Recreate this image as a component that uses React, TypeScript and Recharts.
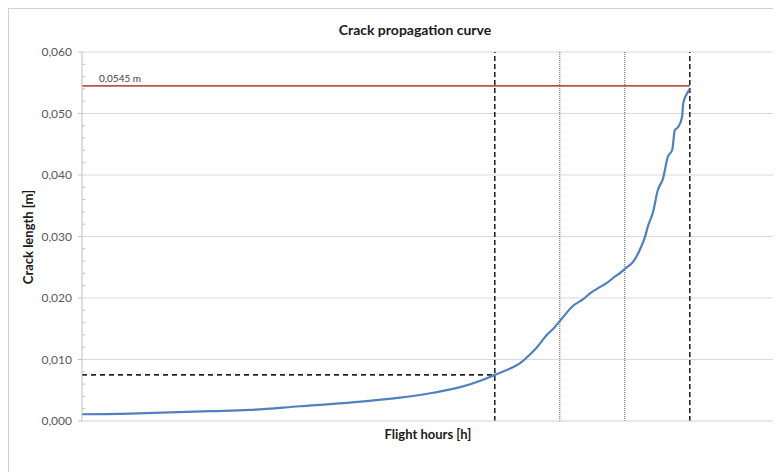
import React from 'react';
import { ComposedChart, Line, XAxis, YAxis, ReferenceLine } from 'recharts';

// Flight hours (arbitrary units along the x axis)
const flightHours = [0, 74, 135, 197, 258, 335, 412, 489, 540, 582, 617, 635, 658, 674, 689, 700, 715, 725, 737, 755, 771, 782, 797, 808, 820, 828, 837, 848, 858, 866, 871, 878, 886, 894, 901, 908, 912, 917, 923, 925, 931, 935];
// Crack length [m]
const crackLength = [0.0011, 0.0012, 0.0014, 0.0016, 0.0018, 0.0024, 0.0030, 0.0038, 0.0046, 0.0055, 0.0067, 0.0075, 0.0085, 0.0094, 0.0108, 0.0120, 0.0140, 0.0150, 0.0165, 0.0187, 0.0198, 0.0208, 0.0218, 0.0225, 0.0235, 0.0241, 0.0249, 0.0259, 0.0278, 0.0299, 0.0318, 0.0338, 0.0376, 0.0395, 0.0429, 0.0441, 0.0473, 0.0478, 0.0494, 0.0517, 0.0533, 0.0540];

const yTicks = [0, 0.002, 0.004, 0.006, 0.008, 0.01, 0.012, 0.014, 0.016, 0.018, 0.02, 0.022, 0.024, 0.026, 0.028, 0.03, 0.032, 0.034, 0.036, 0.038, 0.04, 0.042, 0.044, 0.046, 0.048, 0.05, 0.052, 0.054, 0.056, 0.058, 0.06];
const majorGrid = [0.01, 0.02, 0.03, 0.04, 0.05, 0.06];

const xDomain = [0, 1063];
const dashedX = [635, 935];
const dottedX = [735, 835];
const criticalLength = 0.0545;
const criticalLabel = '0,0545 m';
const initialThreshold = 0.0075;
const thresholdEndX = 635;
const criticalEndX = 935;

const data = flightHours.map((h, i) => ({ hours: h, length: crackLength[i] }));

const FONT = 'Lato, "Open Sans", sans-serif';

const YTick = (props: any) => {
  const { x, y, payload } = props;
  const v = payload.value as number;
  const major = Math.round(v * 1000) % 10 === 0;
  if (major) {
    return (
      <g>
        <line x1={x - 4} x2={x} y1={y} y2={y} stroke="#bfbfbf" strokeWidth={1} />
        <text x={x - 10} y={y} dy={4} textAnchor="end" fontSize={12} fill="#595959" fontFamily={FONT}>
          {v.toFixed(3).replace('.', ',')}
        </text>
      </g>
    );
  }
  return <line x1={x} x2={x + 3} y1={y} y2={y} stroke="#bfbfbf" strokeWidth={1} />;
};

export default function App() {
  return (
    <div
      style={{
        position: 'relative',
        width: 773,
        height: 464,
        boxSizing: 'border-box',
        borderLeft: '1px solid #d0d0d0',
        borderTop: '1px solid #d0d0d0',
        background: '#fff',
        fontFamily: FONT,
      }}
    >
      <ComposedChart
        width={772}
        height={463}
        data={data}
        margin={{ top: 43, right: 8, bottom: 0, left: 0 }}
      >
        <XAxis
          dataKey="hours"
          type="number"
          domain={xDomain}
          tick={false}
          tickLine={false}
          height={51}
          axisLine={{ stroke: '#d0d0d0' }}
        />
        <YAxis
          type="number"
          domain={[0, 0.06]}
          ticks={yTicks}
          interval={0}
          width={73}
          tickSize={0}
          tickMargin={0}
          tickLine={false}
          axisLine={{ stroke: '#bfbfbf' }}
          tick={<YTick />}
        />
        {majorGrid.map((g) => (
          <ReferenceLine key={'g' + g} y={g} stroke="#d9d9d9" strokeWidth={1.2} />
        ))}
        {dottedX.map((x) => (
          <ReferenceLine key={'dt' + x} x={x} stroke="#595959" strokeWidth={1} strokeDasharray="1 1" />
        ))}
        {dashedX.map((x) => (
          <ReferenceLine key={'ds' + x} x={x} stroke="#262626" strokeWidth={1.6} strokeDasharray="5 3" />
        ))}
        <ReferenceLine
          segment={[{ x: 0, y: initialThreshold }, { x: thresholdEndX, y: initialThreshold }]}
          stroke="#262626"
          strokeWidth={1.6}
          strokeDasharray="5 4"
        />
        <ReferenceLine
          segment={[{ x: 0, y: criticalLength }, { x: criticalEndX, y: criticalLength }]}
          stroke="#c0504d"
          strokeWidth={1.8}
          label={(p: any) => {
            const vb = p.viewBox || {};
            return (
              <text x={(vb.x || 0) + 17} y={(vb.y || 0) - 4} fontSize={10} fill="#404040" fontFamily={FONT}>
                {criticalLabel}
              </text>
            );
          }}
        />
        <Line
          type="monotone"
          dataKey="length"
          stroke="#4f81bd"
          strokeWidth={2.2}
          dot={false}
          isAnimationActive={false}
        />
      </ComposedChart>
      <div
        style={{
          position: 'absolute',
          left: 306,
          top: 13,
          width: 200,
          textAlign: 'center',
          fontSize: 14,
          lineHeight: '16px',
          fontWeight: 700,
          color: '#1a1a1a',
        }}
      >
        Crack propagation curve
      </div>
      <div
        style={{
          position: 'absolute',
          left: 19 - 100,
          top: 228 - 8,
          width: 200,
          height: 16,
          lineHeight: '16px',
          textAlign: 'center',
          fontSize: 13,
          fontWeight: 700,
          color: '#1a1a1a',
          transform: 'rotate(-90deg)',
          transformOrigin: 'center',
        }}
      >
        Crack length [m]
      </div>
      <div
        style={{
          position: 'absolute',
          left: 319,
          top: 417,
          width: 200,
          textAlign: 'center',
          fontSize: 13,
          lineHeight: '16px',
          fontWeight: 700,
          color: '#1a1a1a',
        }}
      >
        Flight hours [h]
      </div>
    </div>
  );
}
